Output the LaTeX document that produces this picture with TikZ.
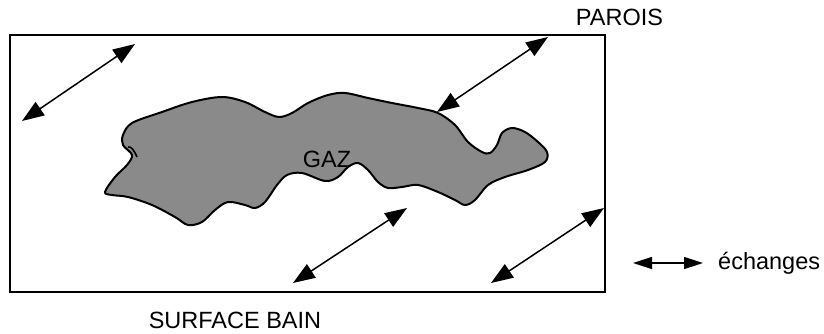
\documentclass[tikz,border=0pt]{standalone}
\usepackage{fontspec}
\setmainfont{Liberation Sans}
\usetikzlibrary{arrows.meta}
\begin{document}
\begin{tikzpicture}[x=1pt,y=-1pt,
  lbl/.style={inner sep=0pt,font=\fontsize{23.5}{28}\selectfont},
  xch/.style={line width=1.5pt,{Triangle[length=22pt,width=16pt]}-{Triangle[length=22pt,width=16pt]}},
  legx/.style={line width=1.5pt,{Triangle[length=19pt,width=12pt]}-{Triangle[length=19pt,width=12pt]}},
  wall/.style={draw=black,line width=1.7pt},
  gas/.style={draw=black,line width=2pt,fill=black!46}]
\useasboundingbox (0,0) rectangle (824,334);
% enclosure
\draw[wall] (10,35) rectangle (605,292);
% gas blob
\draw[gas] plot[smooth cycle,tension=0.55] coordinates {
 (105,192) (115,177) (127,165) (132,155) (123,145) (123,135) (132,123)
 (162,112) (192,102) (222,97) (245,102) (265,112) (279,117) (292,113)
 (308,103) (328,95) (345,93) (368,98) (392,103) (418,108) (438,113)
 (455,125) (468,142) (482,152) (490,153) (497,145) (502,133) (512,128)
 (525,132) (538,142) (547,152) (545,162) (528,170) (505,177) (488,185)
 (475,200) (465,205) (455,200) (438,192) (418,185) (402,187) (388,188)
 (378,182) (368,170) (358,163) (348,167) (338,177) (325,181) (302,173)
 (287,175) (277,185) (265,202) (255,208) (245,205) (228,202) (215,210)
 (202,222) (188,225) (175,217) (152,205) (128,197) (112,195)};
\draw[line width=1.6pt] (128,147) .. controls (131,146) and (134,150) .. (137,157);
% labels
\node[lbl,anchor=base] (gaz) at (327,167) {GAZ};
\node[lbl,anchor=base] (parois) at (619.5,26) {PAROIS};
\node[lbl,anchor=base] (bain) at (235,328) {SURFACE BAIN};
\node[lbl,anchor=base west] (ech) at (718,269) {échanges};
% exchange arrows
\coordinate (a1) at (22,121);  \coordinate (b1) at (135,44);
\coordinate (a2) at (437,112); \coordinate (b2) at (548,37);
\coordinate (a3) at (293,283); \coordinate (b3) at (407,208);
\coordinate (a4) at (491,283); \coordinate (b4) at (604,208);
\coordinate (l1) at (633,263); \coordinate (l2) at (703,263);
\draw[xch] (a1) -- (b1);
\draw[xch] (a2) -- (b2);
\draw[xch] (a3) -- (b3);
\draw[xch] (a4) -- (b4);
\draw[legx] (l1) -- (l2);
\end{tikzpicture}
\end{document}
